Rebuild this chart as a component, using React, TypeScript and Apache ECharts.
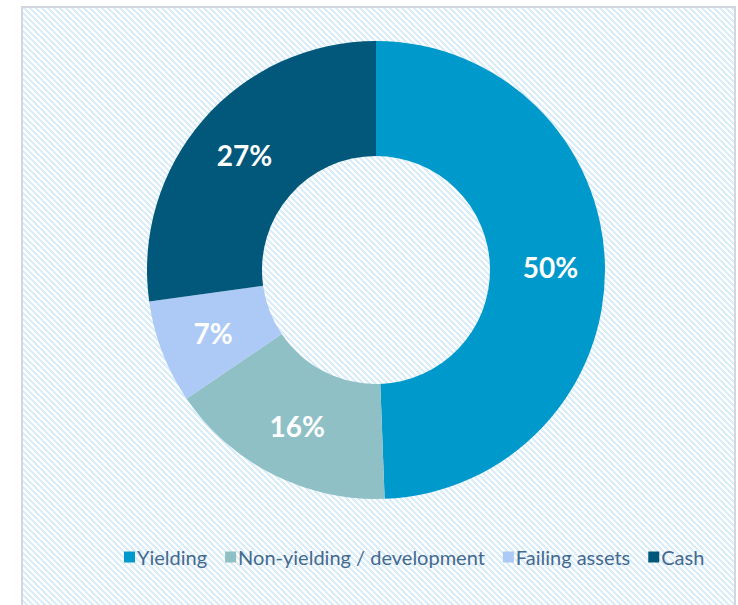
import React, { useEffect, useRef } from "react";
import * as echarts from "echarts";

const categories = ["Yielding", "Non-yielding / development", "Failing assets", "Cash"];
const values = [49.4, 16.1, 7.3, 27.2];
const labels = ["50%", "16%", "7%", "27%"];
const colors = ["#0099CC", "#8FC0C6", "#ADC9F5", "#02587A"];

function stripeTile(): string {
  const n = 6;
  let rects = "";
  for (let y = 0; y < n; y++) {
    for (let x = 0; x < n; x++) {
      if ((((x - y) % n) + n) % n < 3) rects += `<rect x='${x}' y='${y}' width='1' height='1' fill='%23D9EDFA'/>`;
    }
  }
  const svg = `<svg xmlns='http://www.w3.org/2000/svg' width='${n}' height='${n}' shape-rendering='crispEdges'><rect width='${n}' height='${n}' fill='white'/>${rects}</svg>`;
  return `url("data:image/svg+xml;utf8,${svg}")`;
}

export default function App() {
  const ref = useRef<HTMLDivElement>(null);
  useEffect(() => {
    if (!ref.current) return;
    const chart = echarts.init(ref.current, undefined, { renderer: "svg" });
    chart.setOption({
      animation: false,
      backgroundColor: "transparent",
      color: colors,
      legend: {
        top: 542,
        left: 119,
        itemWidth: 11,
        itemHeight: 11,
        itemGap: 18,
        icon: "rect",
        textStyle: { color: "#44698F", fontSize: 20, fontFamily: "Lato", padding: [0, 0, 0, -3] },
        data: categories,
      },
      series: [
        {
          type: "pie",
          center: [376, 270],
          radius: [114, 229],
          startAngle: 90,
          clockwise: true,
          label: {
            show: true,
            position: "inside",
            color: "#ffffff",
            fontSize: 28,
            fontWeight: "bold",
            fontFamily: "Lato",
            formatter: (p: any) => labels[p.dataIndex],
          },
          labelLine: { show: false },
          itemStyle: { borderWidth: 0 },
          emphasis: { disabled: true },
          data: categories.map((c, i) => ({ name: c, value: values[i] })),
        },
      ],
    });
    return () => chart.dispose();
  }, []);
  return (
    <div style={{ position: "absolute", left: 0, top: 0, width: 738, height: 605, overflow: "hidden", background: "#ffffff" }}>
      <div
        style={{
          position: "absolute",
          left: 21,
          top: 6,
          width: 711,
          height: 640,
          border: "2px solid #D3D6DE",
          backgroundImage: stripeTile(),
          backgroundRepeat: "repeat",
        }}
      />
      <div ref={ref} style={{ position: "absolute", left: 0, top: 0, width: 738, height: 605 }} />
    </div>
  );
}
